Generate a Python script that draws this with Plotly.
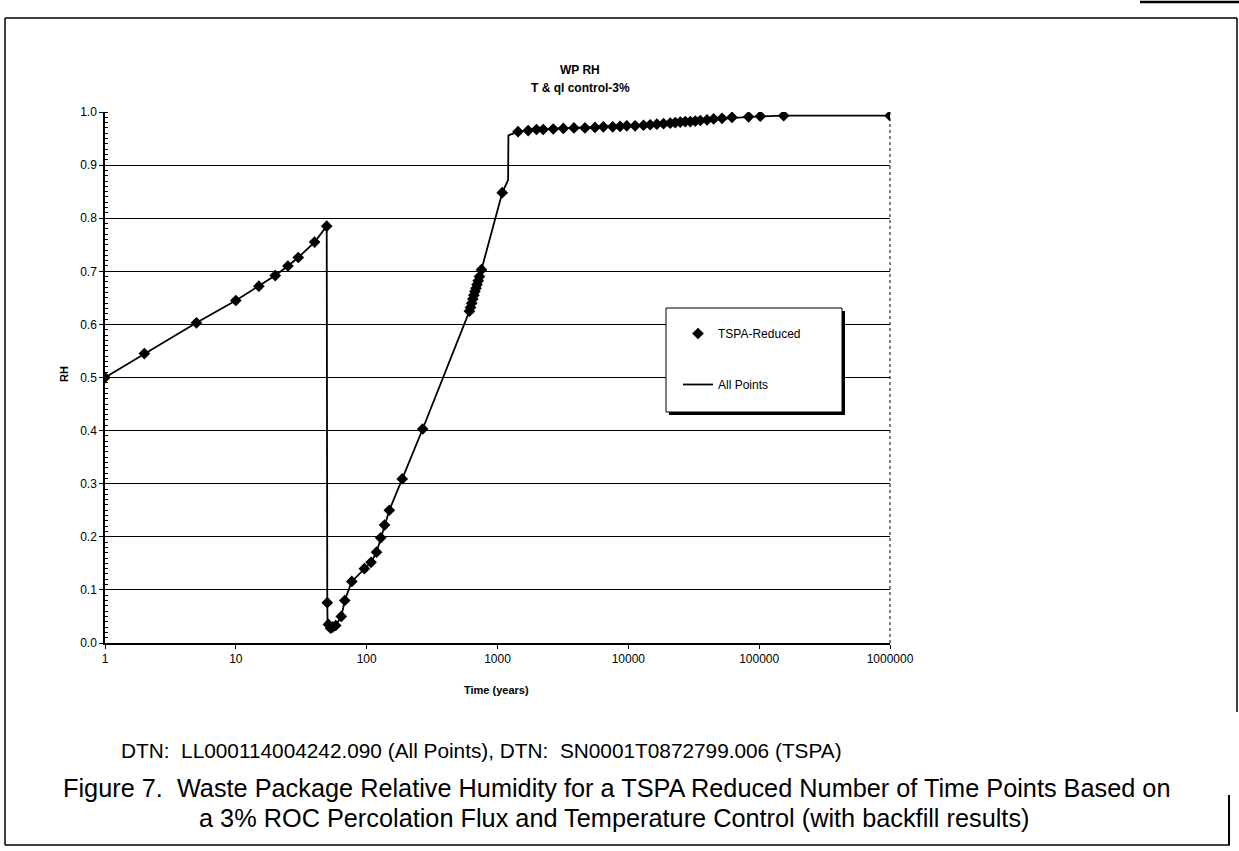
import plotly.graph_objects as go

# ---- data -------------------------------------------------------------
# TSPA-reduced time points (years) and waste package relative humidity
t_tspa = [1, 2, 5, 10, 15, 20, 25, 30, 40, 49.5,
          50, 51, 53, 55, 58, 64, 68, 77, 96, 108,
          119, 128, 137, 149, 187, 268,
          610, 622, 635, 648, 660, 672, 685, 698, 712, 728, 754,
          1087, 1435, 1716, 1986, 2235, 2667, 3184, 3838, 4660, 5557,
          6445, 7595, 8650, 9730, 11270, 13060, 14690, 16520, 18590, 20900,
          22840, 24950, 27240, 29770, 32510, 35500, 39930, 44900, 52000, 62000,
          83000, 102000, 154000, 1000000]
rh_tspa = [0.500, 0.545, 0.603, 0.645, 0.672, 0.692, 0.710, 0.726, 0.755, 0.785,
           0.076, 0.035, 0.028, 0.030, 0.033, 0.050, 0.080, 0.116, 0.140, 0.152,
           0.171, 0.198, 0.222, 0.250, 0.309, 0.403,
           0.625, 0.632, 0.640, 0.648, 0.655, 0.662, 0.668, 0.675, 0.682, 0.690, 0.703,
           0.848, 0.963, 0.965, 0.967, 0.967, 0.968, 0.969, 0.970, 0.970, 0.971,
           0.972, 0.972, 0.973, 0.974, 0.974, 0.975, 0.976, 0.977, 0.978, 0.979,
           0.980, 0.981, 0.982, 0.982, 0.983, 0.984, 0.985, 0.987, 0.988, 0.990,
           0.991, 0.992, 0.993, 0.993]

# full-resolution curve: same path plus the step near 1200 years
t_all = [1, 2, 5, 10, 15, 20, 25, 30, 40, 49.5,
         50, 50.3, 51, 53, 55, 58, 64, 68, 77, 96, 108,
         119, 128, 137, 149, 187, 268,
         610, 635, 660, 685, 712, 754,
         1087, 1205, 1212, 1435, 1986, 3184, 5557, 9730, 16520,
         24950, 35500, 52000, 83000, 154000, 1000000]
rh_all = [0.500, 0.545, 0.603, 0.645, 0.672, 0.692, 0.710, 0.726, 0.755, 0.785,
          0.076, 0.025, 0.035, 0.028, 0.030, 0.033, 0.050, 0.080, 0.116, 0.140, 0.152,
          0.171, 0.198, 0.222, 0.250, 0.309, 0.403,
          0.625, 0.640, 0.655, 0.668, 0.682, 0.703,
          0.848, 0.872, 0.956, 0.963, 0.967, 0.969, 0.971, 0.974, 0.977,
          0.981, 0.984, 0.988, 0.991, 0.993, 0.993]

x_tickvals = [1, 10, 100, 1000, 10000, 100000, 1000000]
x_ticktext = ["1", "10", "100", "1000", "10000", "100000", "1000000"]

# ---- geometry ---------------------------------------------------------
W, H = 1239, 851
L, R, T, B = 105, 890, 112, 643          # plot area in pixels
PW, PH = R - L, B - T


def px(x):
    return (x - L) / PW


def py(y):
    return (B - y) / PH


FONT = "Liberation Sans, Arial, sans-serif"

fig = go.Figure()
fig.add_trace(go.Scatter(
    x=t_tspa, y=rh_tspa, mode="markers", name="TSPA-Reduced",
    legendgroup="a",
    marker=dict(symbol="diamond", size=9, color="black"),
))
fig.add_trace(go.Scatter(
    x=t_all, y=rh_all, mode="lines", name="All Points",
    legendgroup="b",
    line=dict(color="black", width=1.8),
))

shapes = []
# legend frame with a drop shadow
shapes.append(dict(type="rect", xref="paper", yref="paper", layer="above",
                   x0=px(669), x1=px(845), y0=py(415), y1=py(311),
                   fillcolor="black", line=dict(width=0)))
shapes.append(dict(type="rect", xref="paper", yref="paper", layer="above",
                   x0=px(666), x1=px(842), y0=py(412), y1=py(308),
                   fillcolor="white", line=dict(color="black", width=1)))
# dotted right edge of the plot area
shapes.append(dict(type="line", xref="paper", yref="paper", layer="above",
                   x0=1, x1=1, y0=0, y1=1,
                   line=dict(color="black", width=1, dash="dot")))
# outer figure frame
frame = dict(color="black", width=1.5)
shapes.append(dict(type="line", xref="paper", yref="paper",
                   x0=px(5), x1=px(1237), y0=py(18), y1=py(18), line=frame))
shapes.append(dict(type="line", xref="paper", yref="paper",
                   x0=px(5), x1=px(5), y0=py(18), y1=py(845), line=frame))
shapes.append(dict(type="line", xref="paper", yref="paper",
                   x0=px(5), x1=px(1230), y0=py(845), y1=py(845), line=frame))
shapes.append(dict(type="line", xref="paper", yref="paper",
                   x0=px(1237), x1=px(1237), y0=py(18), y1=py(712), line=frame))
shapes.append(dict(type="line", xref="paper", yref="paper",
                   x0=px(1229), x1=px(1229), y0=py(795), y1=py(845),
                   line=dict(color="black", width=2)))
shapes.append(dict(type="line", xref="paper", yref="paper",
                   x0=px(1140), x1=px(1239), y0=py(2), y1=py(2),
                   line=dict(color="black", width=2.5)))

annotations = [
    dict(text="<b>WP RH</b>", x=px(580), y=py(70), size=12),
    dict(text="<b>T & ql control-3%</b>", x=px(580), y=py(88), size=12),
    dict(text="<b>RH</b>", x=px(64), y=py(374), size=11, textangle=-90),
    dict(text="<b>Time (years)</b>", x=px(496), y=py(690), size=11),
    dict(text="DTN:  LL000114004242.090 (All Points), DTN:  SN0001T0872799.006 (TSPA)",
         x=px(481), y=py(750), size=20.8),
    dict(text="Figure 7.  Waste Package Relative Humidity for a TSPA Reduced Number of Time Points Based on",
         x=px(617), y=py(788), size=25.3),
    dict(text="a 3% ROC Percolation Flux and Temperature Control (with backfill results)",
         x=px(614), y=py(818), size=25.3),
]
for a in annotations:
    size = a.pop("size")
    a.update(xref="paper", yref="paper", showarrow=False,
             xanchor="center", yanchor="middle",
             font=dict(family=FONT, size=size, color="black"))

fig.update_layout(
    width=W, height=H,
    margin=dict(l=L, r=W - R, t=T, b=H - B),
    paper_bgcolor="white", plot_bgcolor="white",
    font=dict(family=FONT, size=11, color="black"),
    showlegend=True,
    legend=dict(
        x=px(678), y=py(319), xanchor="left", yanchor="top",
        bgcolor="rgba(0,0,0,0)", borderwidth=0,
        font=dict(family=FONT, size=12, color="black"),
        traceorder="grouped", tracegroupgap=32,
    ),
    shapes=shapes,
    annotations=annotations,
)
fig.update_xaxes(
    type="log", range=[0, 6],
    tickvals=x_tickvals, ticktext=x_ticktext,
    ticks="outside", ticklen=4, tickcolor="black",
    showgrid=False, showline=True, linecolor="black", linewidth=1.5,
    zeroline=False, tickfont=dict(family=FONT, size=12, color="black"),
)
fig.update_yaxes(
    range=[0, 1], dtick=0.1, tickformat=".1f",
    ticks="outside", ticklen=4, tickcolor="black",
    showgrid=True, gridcolor="black", gridwidth=1,
    showline=True, linecolor="black", linewidth=1.5,
    zeroline=False, tickfont=dict(family=FONT, size=12, color="black"),
    minor=dict(dtick=0.01, ticks="inside", ticklen=3, tickcolor="black", showgrid=False),
)

fig.write_html("out.html")
